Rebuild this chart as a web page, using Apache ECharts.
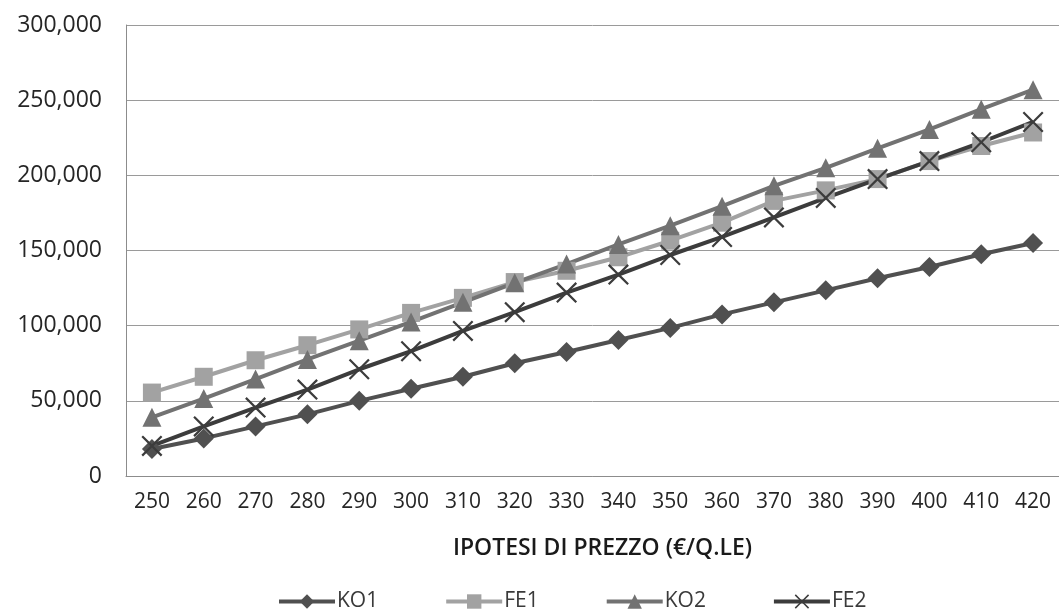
<!DOCTYPE html>
<html>
<head>
<meta charset="utf-8">
<script src="https://cdn.jsdelivr.net/npm/echarts@6/dist/echarts.min.js"></script>
<style>
html,body{margin:0;padding:0;background:#fff;}
#chart{width:1059px;height:610px;}
</style>
</head>
<body>
<div id="chart"></div>
<script>
const categories = ['250','260','270','280','290','300','310','320','330','340','350','360','370','380','390','400','410','420'];
const KO1 = [18000, 25000, 33000, 41000, 50000, 58000, 66000, 75000, 82500, 90500, 98500, 107500, 115500, 123500, 131500, 139000, 147500, 155000];
const FE1 = [55500, 66000, 77000, 87000, 97500, 108500, 118500, 129000, 136500, 145500, 156500, 168500, 183000, 190000, 197500, 209500, 219500, 228500];
const KO2 = [39000, 51500, 64500, 77500, 90000, 102500, 115500, 128500, 141000, 154000, 166500, 179500, 193000, 205000, 218000, 230500, 244000, 257000];
const FE2 = [20000, 33000, 45500, 57500, 71000, 83000, 96500, 109000, 122000, 134000, 147000, 159000, 172000, 185000, 197500, 209500, 222000, 235500];
const seriesNames = ['KO1','FE1','KO2','FE2'];
const xTitle = 'IPOTESI DI PREZZO (€/Q.LE)';

const FONT = '"Open Sans", "Noto Sans", sans-serif';
const crossPath = 'path://M0,1.5L1.5,0L10,8.5L18.5,0L20,1.5L11.5,10L20,18.5L18.5,20L10,11.5L1.5,20L0,18.5L8.5,10Z';

function fmt(v){ return v.toString().replace(/\B(?=(\d{3})+(?!\d))/g, ','); }

const chart = echarts.init(document.getElementById('chart'), null, {renderer:'canvas'});
const mk = (name, data, color, symbol, size) => ({
  name, type:'line', data, symbol, symbolSize:size, showSymbol:true,
  lineStyle:{color, width:4}, itemStyle:{color},
  animation:false
});
chart.setOption({
  backgroundColor:'#ffffff',
  animation:false,
  grid:{left:126, top:25, width:940, height:451, containLabel:false},
  legend:{
    data:seriesNames, left:272, top:586, itemWidth:56, itemHeight:18, itemGap:66,
    lineStyle:{width:4},
    textStyle:{fontFamily:FONT, fontSize:21, color:'#3a3a3a', padding:[0,0,0,-3]}
  },
  xAxis:{
    type:'category', data:categories, boundaryGap:true,
    axisLine:{show:true, lineStyle:{color:'#8c8c8c', width:1}},
    axisTick:{show:false},
    axisLabel:{fontFamily:FONT, fontSize:21, color:'#262626', margin:16},
    name:xTitle, nameLocation:'middle', nameGap:61,
    nameTextStyle:{fontFamily:FONT, fontSize:23, fontWeight:600, color:'#1a1a1a', padding:[0,0,0,20]}
  },
  yAxis:{
    type:'value', min:0, max:300000, interval:50000,
    axisLine:{show:true, lineStyle:{color:'#8c8c8c', width:1}},
    axisTick:{show:false},
    splitLine:{show:true, lineStyle:{color:'#9a9a9a', width:1}},
    axisLabel:{fontFamily:FONT, fontSize:23, color:'#262626', margin:24, formatter:fmt}
  },
  series:[
    mk('KO1', KO1, '#505050', 'diamond', [20,20]),
    mk('FE1', FE1, '#a2a2a2', 'rect', [18,18]),
    mk('KO2', KO2, '#727272', 'triangle', [19,19]),
    mk('FE2', FE2, '#3c3c3c', crossPath, [21,21])
  ]
});
</script>
</body>
</html>
